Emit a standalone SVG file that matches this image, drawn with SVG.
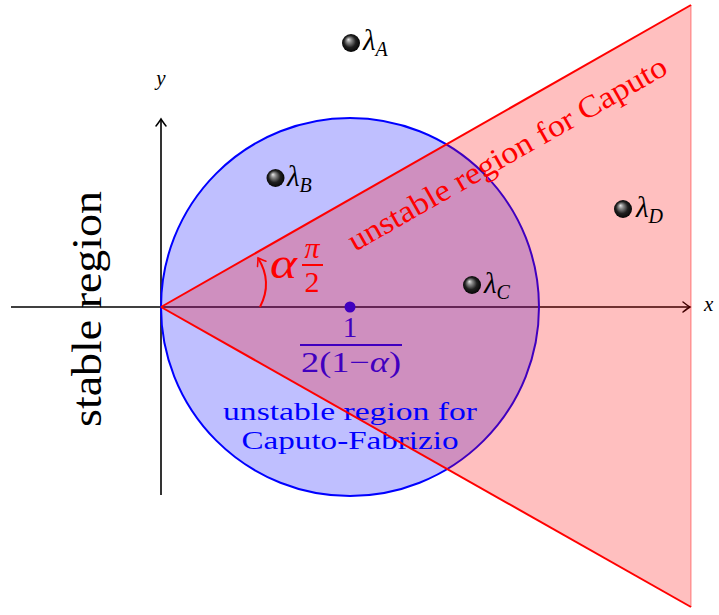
<svg xmlns="http://www.w3.org/2000/svg" width="719" height="615" viewBox="0 0 719 615">
<style>
.ser{font-family:"Liberation Serif","Times New Roman",Times,serif;}
.it{font-family:"Liberation Serif","Times New Roman",Times,serif;font-style:italic;}
.ax{stroke:#000;stroke-width:1.6;fill:none;}
.rl{stroke:#ff0000;stroke-width:2;fill:none;}
</style>
<defs>
<marker id="arrK" viewBox="-10 -7 12 14" refX="0" refY="0" markerWidth="12" markerHeight="14" orient="auto" markerUnits="userSpaceOnUse">
<path d="M-7,-5 Q-2,-1.2 0,0 Q-2,1.2 -7,5" fill="none" stroke="#000" stroke-width="1.5" stroke-linecap="round"/>
</marker>
<marker id="arrR" viewBox="-10 -7 12 14" refX="0" refY="0" markerWidth="12" markerHeight="14" orient="auto" markerUnits="userSpaceOnUse">
<path d="M-7,-5 Q-2,-1.2 0,0 Q-2,1.2 -7,5" fill="none" stroke="#ff0000" stroke-width="1.5" stroke-linecap="round"/>
</marker>
<radialGradient id="ball" cx="0.5" cy="0.5" r="0.55" fx="0.35" fy="0.3">
<stop offset="0" stop-color="#e8e8e8"/>
<stop offset="0.25" stop-color="#8a8a8a"/>
<stop offset="0.6" stop-color="#202020"/>
<stop offset="1" stop-color="#000"/>
</radialGradient>
</defs>
<rect width="719" height="615" fill="#fff"/>
<g id="connectors">
<line class="ax" x1="11" y1="307" x2="690" y2="307" marker-end="url(#arrK)"/>
<line class="ax" x1="161" y1="495" x2="161" y2="119" marker-end="url(#arrK)"/>
</g>
<g id="circle-region">
<circle cx="350" cy="307" r="189" fill="#0000ff" fill-opacity="0.25" stroke="#0000ff" stroke-width="2"/>
<circle cx="350" cy="307" r="5.5" fill="#0000ff"/>
<text class="ser" x="350" y="337" font-size="29" text-anchor="middle" fill="#0000ff">1</text>
<line x1="300" y1="345" x2="402" y2="345" stroke="#0000ff" stroke-width="2"/>
<text class="ser" x="351" y="372" font-size="29" text-anchor="middle" fill="#0000ff" textLength="100" lengthAdjust="spacingAndGlyphs">2(1−<tspan class="it">α</tspan>)</text>
</g>
<g id="cone-region">
<polygon points="161,307 691,5 691,607" fill="#ff0000" fill-opacity="0.25"/>
<line x1="691" y1="5" x2="691" y2="607" stroke="#ff0000" stroke-opacity="0.3" stroke-width="1.5"/>
</g>
<g id="cf-label">
<text class="ser" x="350" y="420" font-size="26" text-anchor="middle" fill="#0000ff" textLength="254" lengthAdjust="spacingAndGlyphs">unstable region for</text>
<text class="ser" x="350" y="449" font-size="26" text-anchor="middle" fill="#0000ff" textLength="217" lengthAdjust="spacingAndGlyphs">Caputo-Fabrizio</text>
</g>
<g id="cone-lines">
<line class="rl" x1="161" y1="307" x2="691" y2="5"/>
<line class="rl" x1="161" y1="307" x2="691" y2="607"/>
</g>
<g id="caputo-label">
<text class="ser" transform="translate(355,252) rotate(-29.68)" font-size="31" fill="#ff0000" textLength="362" lengthAdjust="spacingAndGlyphs">unstable region for Caputo</text>
</g>
<g id="stable-label">
<text class="ser" transform="translate(101,309) rotate(-90)" font-size="43" text-anchor="middle" fill="#000" textLength="236" lengthAdjust="spacingAndGlyphs">stable region</text>
</g>
<g id="angle">
<path d="M260,307 Q273,282 258,258" class="rl" stroke-width="1.8" marker-end="url(#arrR)"/>
<text class="it" x="270" y="278" font-size="44" fill="#ff0000" textLength="27" lengthAdjust="spacingAndGlyphs">α</text>
<text class="it" x="312" y="258" font-size="30" text-anchor="middle" fill="#ff0000">π</text>
<line x1="302" y1="265" x2="323" y2="265" stroke="#ff0000" stroke-width="2"/>
<text class="ser" x="312" y="292" font-size="30" text-anchor="middle" fill="#ff0000">2</text>
</g>
<g id="lambdaA">
<circle cx="351" cy="43" r="9" fill="url(#ball)"/>
<text class="it" x="363" y="50" font-size="29" fill="#000">λ<tspan font-size="20" dy="6">A</tspan></text>
</g>
<g id="lambdaB">
<circle cx="275.5" cy="178" r="9" fill="url(#ball)"/>
<text class="it" x="287" y="186" font-size="29" fill="#000">λ<tspan font-size="20" dy="6">B</tspan></text>
</g>
<g id="lambdaC">
<circle cx="472" cy="285" r="9" fill="url(#ball)"/>
<text class="it" x="484" y="293" font-size="29" fill="#000">λ<tspan font-size="20" dy="6">C</tspan></text>
</g>
<g id="lambdaD">
<circle cx="623" cy="209" r="9" fill="url(#ball)"/>
<text class="it" x="636" y="217" font-size="29" fill="#000">λ<tspan font-size="20" dy="6">D</tspan></text>
</g>
<g id="axis-labels">
<text class="it" x="161" y="85" font-size="21" text-anchor="middle" fill="#000">y</text>
<text class="it" x="704" y="311" font-size="21" fill="#000">x</text>
</g>
</svg>
